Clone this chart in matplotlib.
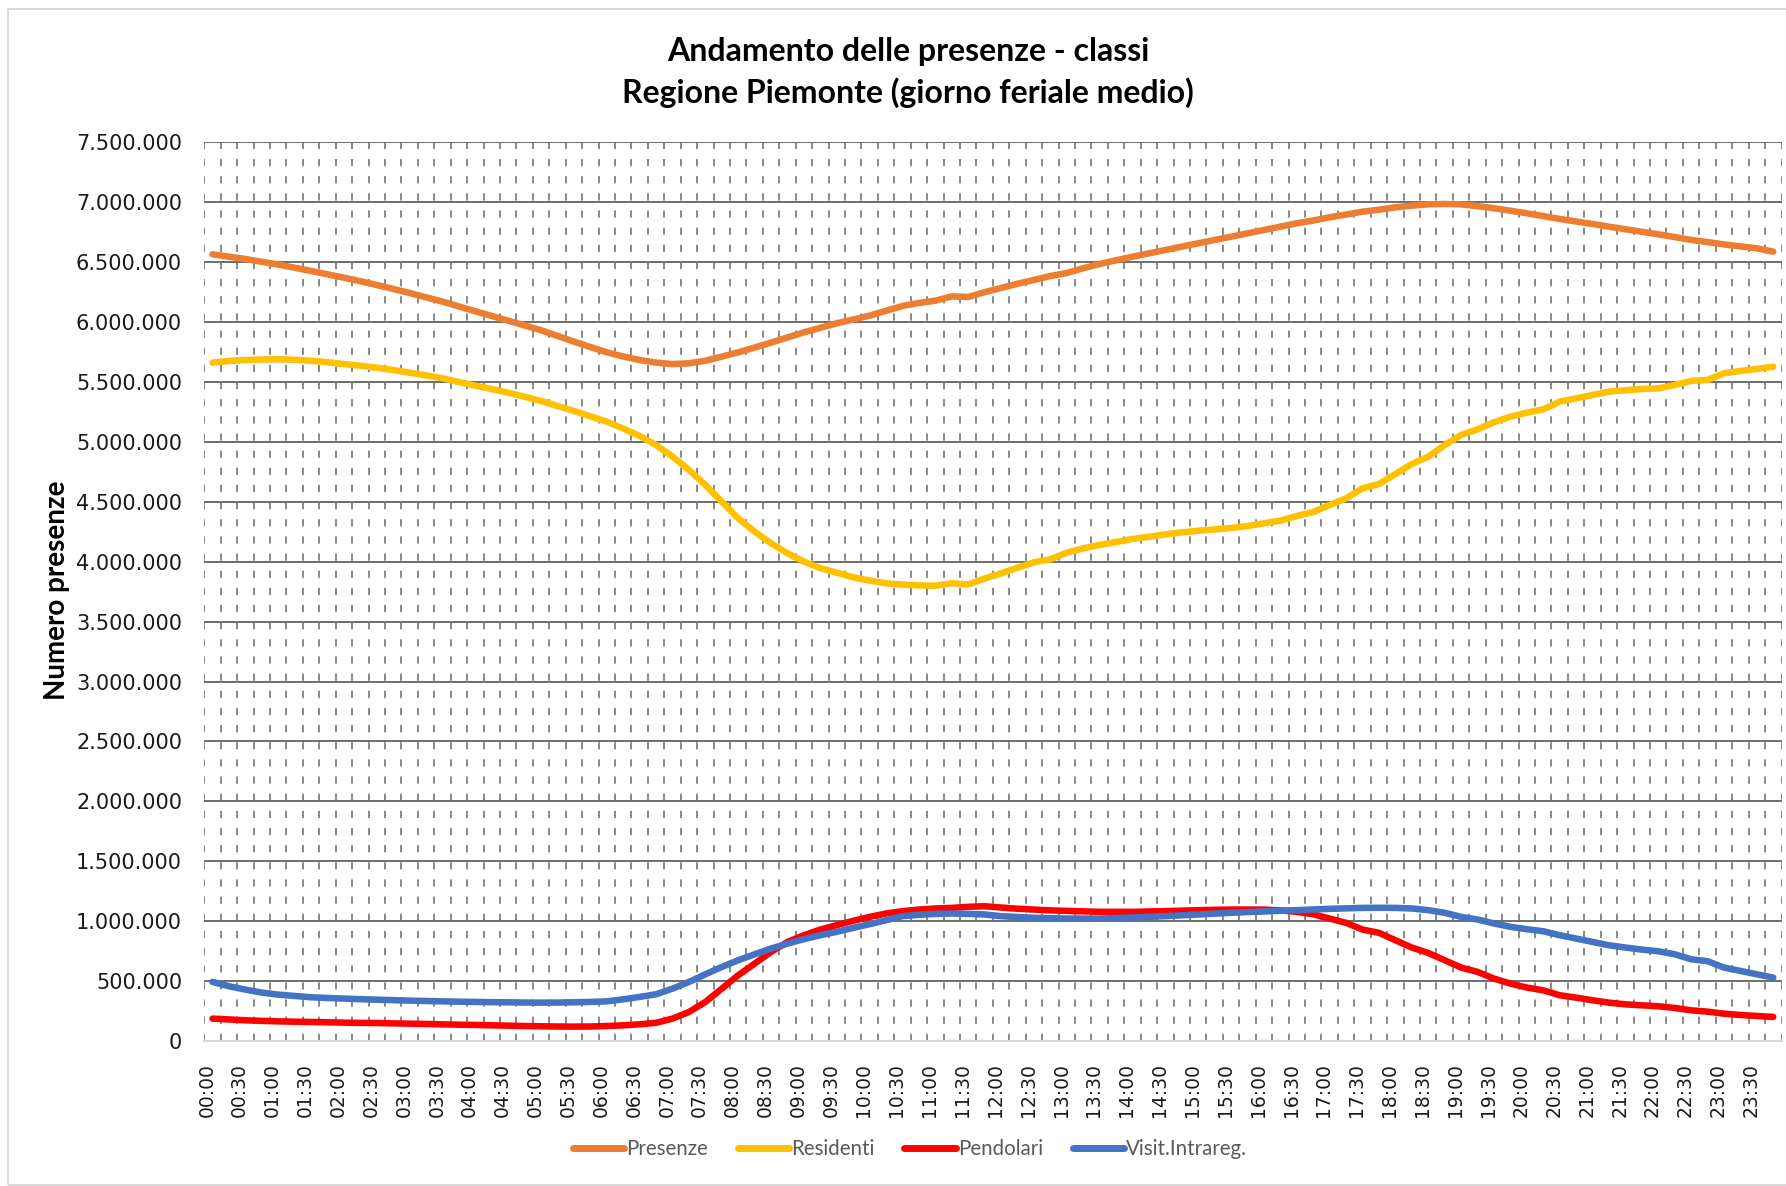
import numpy as np
import matplotlib
matplotlib.use("Agg")
import matplotlib.pyplot as plt
from matplotlib.ticker import FuncFormatter, FixedLocator
from matplotlib.patches import Rectangle

# ---- data (thousands of people, every 15 minutes) ----
times = [f"{h:02d}:{m:02d}" for h in range(24) for m in (0, 15, 30, 45)]

presenze = [6566, 6546, 6527, 6503, 6480, 6454, 6427, 6399, 6371, 6341, 6310, 6277,
            6243, 6207, 6171, 6131, 6090, 6051, 6012, 5972, 5932, 5885, 5837, 5792,
            5748, 5713, 5684, 5662, 5650, 5656, 5678, 5712, 5748, 5788, 5829, 5872,
            5915, 5953, 5990, 6022, 6054, 6095, 6135, 6160, 6179, 6215, 6210, 6250,
            6285, 6320, 6352, 6385, 6410, 6450, 6485, 6516, 6546, 6574, 6602, 6630,
            6658, 6686, 6713, 6741, 6769, 6797, 6825, 6848, 6875, 6898, 6922, 6938,
            6958, 6972, 6983, 6986, 6983, 6968, 6950, 6930, 6908, 6885, 6861, 6840,
            6819, 6797, 6775, 6754, 6733, 6710, 6686, 6668, 6649, 6632, 6616, 6588]

residenti = [5662, 5676, 5684, 5688, 5690, 5686, 5678, 5665, 5650, 5636, 5620, 5600,
             5578, 5556, 5531, 5500, 5470, 5441, 5411, 5377, 5342, 5300, 5258, 5214,
             5169, 5112, 5050, 4974, 4877, 4766, 4641, 4501, 4362, 4251, 4154, 4070,
             4001, 3946, 3909, 3870, 3843, 3820, 3809, 3803, 3800, 3820, 3811, 3860,
             3903, 3950, 3995, 4020, 4076, 4112, 4140, 4165, 4190, 4209, 4229, 4245,
             4259, 4270, 4282, 4298, 4321, 4343, 4382, 4415, 4474, 4529, 4613, 4649,
             4732, 4816, 4877, 4974, 5058, 5105, 5164, 5211, 5244, 5272, 5336, 5364,
             5392, 5420, 5431, 5442, 5447, 5475, 5509, 5517, 5573, 5592, 5609, 5628]

pendolari = [187, 180, 173, 168, 164, 161, 159, 156, 153, 151, 150, 147,
             145, 142, 139, 136, 134, 131, 128, 125, 123, 121, 120, 121,
             125, 131, 139, 152, 187, 242, 326, 437, 549, 646, 744, 827,
             883, 930, 967, 1003, 1036, 1064, 1084, 1097, 1106, 1111, 1120, 1125,
             1114, 1104, 1097, 1090, 1086, 1082, 1078, 1078, 1078, 1081, 1084, 1088,
             1092, 1095, 1097, 1097, 1097, 1090, 1078, 1058, 1022, 986, 930, 903,
             841, 780, 735, 674, 613, 577, 521, 479, 446, 423, 382, 362,
             340, 320, 306, 298, 290, 276, 256, 245, 228, 217, 209, 201]

visit_intrareg = [493, 457, 429, 404, 387, 376, 365, 359, 354, 349, 345, 341,
                  337, 334, 331, 328, 326, 324, 323, 321, 320, 321, 323, 326,
                  331, 348, 368, 390, 437, 493, 557, 618, 674, 724, 772, 813,
                  850, 883, 911, 944, 975, 1008, 1042, 1053, 1061, 1064, 1061, 1056,
                  1042, 1035, 1028, 1025, 1022, 1022, 1022, 1026, 1031, 1036, 1042, 1049,
                  1056, 1063, 1070, 1076, 1081, 1087, 1092, 1098, 1103, 1107, 1111, 1112,
                  1111, 1106, 1092, 1070, 1036, 1014, 981, 953, 933, 916, 883, 855,
                  827, 799, 780, 763, 749, 724, 682, 666, 613, 585, 557, 529]

series_names = ["Presenze", "Residenti", "Pendolari", "Visit.Intrareg."]
series_colors = ["#ED7D31", "#FFC000", "#FF0000", "#4472C4"]

# ---- figure ----
W, H = 1786, 1186
fig = plt.figure(figsize=(W / 100, H / 100), dpi=100)
fig.patch.set_facecolor("white")

# outer chart border
fig.patches.append(Rectangle((8 / W, 1 / H), (W - 8) / W + 0.01, (H - 10) / H,
                             transform=fig.transFigure, fill=False,
                             edgecolor="#D9D9D9", linewidth=1.5))

x0, x1 = 204.3, 1781.5
y_top, y_bot = 142.4, 1041
ax = fig.add_axes([x0 / W, 1 - y_bot / H, (x1 - x0) / W, (y_bot - y_top) / H])

n = len(times)
xc = np.arange(n) + 0.5
data = [presenze, residenti, pendolari, visit_intrareg]
for vals, name, col in zip(data, series_names, series_colors):
    ax.plot(xc, np.array(vals) * 1000, color=col, lw=4.7, label=name,
            solid_capstyle="round", solid_joinstyle="round", zorder=3)

ax.set_xlim(0, n)
ax.set_ylim(0, 7_500_000)

# y axis
ax.set_yticks(np.arange(0, 7_500_001, 500_000))
ax.yaxis.set_major_formatter(FuncFormatter(lambda v, p: f"{int(v):,}".replace(",", ".")))
ax.grid(axis="y", which="major", color="#6E6E6E", lw=1.4, zorder=1)

# x axis: labels every 30 min, dashed grid at every category boundary
lab_idx = list(range(0, n, 2))
ax.xaxis.set_major_locator(FixedLocator([i + 0.15 for i in lab_idx]))
ax.set_xticklabels([times[i] for i in lab_idx], rotation=90)
ax.xaxis.set_minor_locator(FixedLocator(np.arange(0, n + 1)))
ax.grid(axis="x", which="minor", color="#7F7F7F", lw=1.3, linestyle=(0, (4, 5.5)), zorder=1)
ax.grid(axis="x", which="major", visible=False)

ax.tick_params(axis="both", which="both", length=0)
ax.tick_params(axis="y", pad=16, labelsize=15, labelcolor="#1A1A1A")
ax.tick_params(axis="x", pad=16, labelsize=13.5, labelcolor="#1A1A1A")
for lab in ax.get_yticklabels() + ax.get_xticklabels():
    lab.set_fontfamily("DejaVu Sans")

for s in ["top", "right", "left"]:
    ax.spines[s].set_visible(False)
ax.spines["bottom"].set_color("#D9D9D9")
ax.spines["bottom"].set_linewidth(1.5)

# titles
fig.text(908 / W, 1 - 51 / H, "Andamento delle presenze - classi", ha="center", va="center",
         fontsize=23, fontweight="bold", family="Lato", color="#000000")
fig.text(908 / W, 1 - 93 / H, "Regione Piemonte (giorno feriale medio)", ha="center", va="center",
         fontsize=23, fontweight="bold", family="Lato", color="#000000")
fig.text(57 / W, 1 - 590 / H, "Numero presenze", rotation=90, ha="center", va="center",
         fontsize=20, fontweight="bold", family="Lato", color="#000000")

# legend
leg = fig.legend(loc="center", bbox_to_anchor=(910 / W, 1 - 1149 / H), ncol=4, frameon=False,
                 prop={"family": "Lato", "size": 14.8}, handlelength=2.5, handletextpad=0.1,
                 columnspacing=1.45)
for t in leg.get_texts():
    t.set_color("#595959")
for h in leg.legend_handles:
    h.set_linewidth(5)

fig.savefig("out.png", dpi=100, facecolor="white")
